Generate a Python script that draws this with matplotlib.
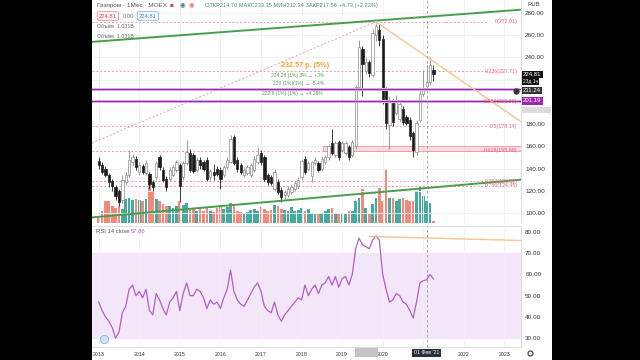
import matplotlib
matplotlib.use("Agg")
from matplotlib import pyplot as plt
from matplotlib.patches import Rectangle
from matplotlib.lines import Line2D
import numpy as np

plt.rcParams['font.family'] = ['Liberation Sans', 'DejaVu Sans']

# Monthly candles of Gazprom, index 0 = Jan 2013 ... 99 = Apr 2021
opens = [147, 143, 140, 134, 129, 123, 120, 112, 128, 134, 146, 149,
         137, 142, 136, 135, 128, 132, 150, 139, 131, 131, 134, 139,
         143, 132, 145, 154, 152, 139, 148, 146, 148, 132, 137, 140,
         139, 134, 141, 146, 168, 148, 143, 134, 136, 134, 139, 146,
         154, 150, 134, 132, 122, 128, 121, 116, 116, 119, 122, 124,
         132, 149, 140, 133, 145, 145, 140, 146, 150, 163, 152, 164, 157, 154, 159, 152,
         160, 213, 248, 228, 236, 224, 260, 265, 257, 211, 179, 199,
         190, 185, 194, 186, 184, 172, 155, 184, 207.5, 214.70, 217.6, 229]
highs = [150, 146, 142, 136, 131, 125, 122, 134, 137, 157, 153, 151,
         146, 144, 148, 137, 130, 147, 152, 141, 133, 141, 143, 148,
         145, 147, 166, 158, 154, 150, 150, 148, 150, 140, 144, 142,
         141, 143, 150, 170, 170, 150, 145, 141, 143, 145, 151, 159,
         157, 152, 136, 134, 140, 131, 123, 121, 124, 126, 129, 132,
         149, 151, 147, 147, 150, 147, 151, 152, 162, 176, 165, 166, 165, 165, 161, 166,
         215, 256, 250, 240, 238, 266, 271, 270, 260, 213, 205, 203,
         206, 201, 196, 188, 186, 174, 184, 213, 229, 233.35, 240, 233]
lows = [140, 135, 132, 123, 120, 112, 106, 109, 125, 132, 142, 139,
        134, 135, 134, 122, 120, 130, 139, 128, 120, 129, 132, 137,
        110, 130, 143, 137, 136, 137, 140, 138, 129, 130, 130, 133,
        122, 132, 140, 145, 143, 137, 135, 132, 134, 132, 137, 144,
        143, 129, 125, 125, 120, 117, 110, 113, 114, 117, 120, 122,
        130, 135, 138, 128, 143, 137, 138, 144, 148, 152, 150, 148, 155, 152, 148, 150,
        158, 210, 205, 225, 222, 222, 255, 250, 198, 176, 158, 178,
        188, 182, 179, 179, 166, 150, 152, 182, 205, 212.34, 215, 219]
closes = [143, 137, 134, 128, 124, 115, 110, 130, 134, 148, 150, 141,
          143, 137, 145, 126, 123, 145, 141, 130, 123, 139, 141, 146,
          124, 145, 155, 139, 138, 148, 143, 140, 131, 138, 134, 135,
          131, 141, 148, 167, 145, 140, 137, 139, 141, 143, 149, 152,
          146, 131, 128, 127, 137, 119, 114, 119, 122, 123, 127, 130,
          147, 137, 145, 146, 148, 139, 149, 150, 160, 154, 163, 150, 163, 163, 150, 164,
          213, 249, 234, 236, 226, 262, 268, 256, 203, 181, 200, 182,
          202, 198, 182, 181, 169, 157, 181, 207, 212.83, 217.56, 233, 224.81]
volume = [7, 12, 22, 22, 17, 15, 17, 14, 24, 25, 23, 24,
          23, 22, 24, 47, 32, 24, 22, 19, 17, 17, 15, 17,
          22, 18, 20, 15, 15, 12, 14, 12, 16, 12, 11, 15,
          18, 14, 16, 20, 17, 12, 11, 10, 11, 13, 14, 12,
          16, 14, 12, 13, 18, 17, 14, 13, 12, 16, 12, 13,
          15, 12, 14, 10, 9, 9, 10, 12, 14, 15, 10, 9, 9, 9, 12, 12,
          22, 25, 34, 15, 9, 19, 25, 35, 22, 54, 25, 25,
          22, 24, 25, 23, 22, 22, 32, 37, 27, 22, 20, 2]
rsi = [47, 43, 40, 38, 35, 30, 33, 42, 45, 53, 55, 50,
       52, 49, 53, 43, 41, 51, 48, 44, 41, 47, 49, 52,
       43, 51, 56, 50, 50, 53, 52, 49, 44, 48, 46, 47,
       44, 49, 53, 62, 52, 48, 46, 45, 48, 51, 54, 56,
       52, 45, 43, 42, 47, 41, 38, 41, 43, 45, 47, 49,
       48, 55, 50, 53, 55, 51, 55, 56, 59, 55, 59, 54, 58, 59, 55, 60,
       72, 77, 74, 73, 72, 76, 78, 76, 60, 53, 47, 48,
       51, 50, 47, 46, 43, 39.5, 47, 56, 57, 57.5, 60, 57.86]

year_labels = ['2013', '2014', '2015', '2016', '2017', '2018',
               '2019', '2020', '2021', '2022', '2023']
price_ticks = [100, 120, 140, 160, 180, 200, 220, 240, 260, 280]
hidden_ticks = [200, 220]   # covered by the price badges
rsi_ticks = [30, 40, 50, 60, 70, 80]

fib_ratios = [0, 0.236, 0.382, 0.5, 0.618, 0.764, 0.786]
fib_prices = [272.01, 227.71, 200.30, 178.14, 155.99, 128.52, 124.45]
purple_levels = [211.24, 201.19]
zone_low, zone_high, zone_start = 156.0, 160.5, 66.4

# drawings: (x in months, price)
upper_trend = ([-2, 125], [254, 283])
lower_trend = ([-2, 125], [96, 130])
down_trend = ([82, 125], [272, 182])
fib_diag = ([-2, 82], [163, 272])
rsi_trend = ([80, 125], [77.8, 75.9])
cursor = 97

W, H = 640, 360


def fx(x):
    return x / W


def fy(y):
    return 1 - y / H


fig = plt.figure(figsize=(6.4, 3.6), dpi=100, facecolor='black')

bg = fig.add_axes([fx(92), 0, fx(552) - fx(92), 1])
bg.set_facecolor('white')
bg.set_xticks([])
bg.set_yticks([])
for s in bg.spines.values():
    s.set_visible(False)
bg.set_zorder(-2)

ax = fig.add_axes([fx(92), fy(223), fx(521) - fx(92), 223 / H])
rax = fig.add_axes([fx(92), fy(347), fx(521) - fx(92), (347 - 226) / H])
ax.set_facecolor('none')
rax.set_facecolor('none')

x = np.arange(len(closes))
o = np.array(opens)
c = np.array(closes)
up = c >= o
xlim = (-1.98, 124.9)

# volume behind the candles
vax = ax.twinx()
vax.set_zorder(-1)
vax.bar(x, volume, width=0.8, color=np.where(up, '#45aaa0', '#f2897a'), linewidth=0)
vax.set_ylim(0, 223)
vax.axis('off')

# candles
ax.vlines(x, lows, highs, colors=np.where(up, '#8c8c8c', '#1c1c1c'), lw=0.6, zorder=3)
body = np.maximum(np.abs(c - o), 0.6)
ax.bar(x, body, bottom=np.minimum(o, c), width=0.68,
       color=np.where(up, 'white', '#1c1c1c'),
       edgecolor=np.where(up, '#8c8c8c', '#1c1c1c'), linewidth=0.5, zorder=4)

# pink zone
ax.add_patch(Rectangle((zone_start, zone_low), xlim[1] - zone_start, zone_high - zone_low,
                       fc='#fbd0da', ec='#f08aa0', lw=0.7, alpha=0.8, zorder=2))

# fibonacci levels
for r, p in zip(fib_ratios, fib_prices):
    ax.plot([-2, 115.5], [p, p], color='#ef9aa8', lw=0.7, ls=(0, (2, 2)), zorder=2)
    ax.text(123.9, p, f"{r:g}({p:.2f})", ha='right', va='center',
            fontsize=3.8, color='#e0607a', zorder=7)
ax.plot(*fib_diag, color='#ef9aa8', lw=0.7, ls=(0, (2, 2)), zorder=2)

# purple horizontal levels
for lvl in purple_levels:
    ax.axhline(lvl, color='#dcb0e6', lw=2.2, zorder=5)
    ax.axhline(lvl, color='#9c27b0', lw=0.8, zorder=5.1)

# trend lines
ax.plot(*upper_trend, color='#4a9d4f', lw=1.4, zorder=6)
ax.plot(*lower_trend, color='#4a9d4f', lw=1.4, zorder=6)
ax.plot(*down_trend, color='#f5c58a', lw=1.0, zorder=6)

# notes on the chart
ax.text(61, 233, "232.57 р. (5%)", fontsize=5.2, color='#f0a030',
        fontweight='bold', ha='center', va='center', zorder=8)
ax.text(58.7, 223.6, "224.28 (1%) 3% → +3%", fontsize=3.6, color='#5aa05a',
        ha='center', va='center', zorder=8)
ax.text(59, 217, "220 (1%)(1%) → -5.4%", fontsize=3.6, color='#5aa05a',
        ha='center', va='center', zorder=8)
ax.text(57.2, 207.8, "222.6 (1%) (1%) → +4.28%", fontsize=3.6, color='#5aa05a',
        ha='center', va='center', zorder=8)

ax.axvline(cursor, color='#9a9a9a', lw=0.6, ls=(0, (3, 3)), zorder=7)

ax.set_xlim(*xlim)
ax.set_ylim(91, 291.7)
ax.set_xticks(np.arange(0, 121, 12))
ax.set_yticks(price_ticks)
ax.set_yticklabels(['' if t in hidden_ticks else f"{t:.2f}" for t in price_ticks])
ax.yaxis.tick_right()
ax.tick_params(axis='y', length=0, pad=3, labelsize=4.6, labelcolor='#333333')
ax.tick_params(axis='x', length=0, labelbottom=False)
ax.grid(True, color='#eef0f4', lw=0.6, zorder=0)
for name, s in ax.spines.items():
    s.set_visible(name == 'right')
ax.spines['right'].set_color('#d8d8d8')
ax.spines['right'].set_linewidth(0.6)

# RSI panel
rax.axhspan(30, 70, color='#f3e6f8', zorder=0)
rax.plot(x, rsi, color='#b35fc8', lw=0.9, zorder=3)
rax.plot(*rsi_trend, color='#f5c58a', lw=1.0, zorder=4)
rax.axvline(cursor, color='#9a9a9a', lw=0.6, ls=(0, (3, 3)), zorder=5)
rax.set_xlim(*xlim)
rax.set_ylim(25.9, 82.7)
rax.set_yticks(rsi_ticks)
rax.set_yticklabels([f"{t:.2f}" for t in rsi_ticks])
rax.yaxis.tick_right()
rax.set_xticks(np.arange(0, 121, 12))
rax.set_xticklabels([lab if lab != '2021' else '' for lab in year_labels])
rax.tick_params(axis='y', length=0, pad=3, labelsize=4.6, labelcolor='#333333')
rax.tick_params(axis='x', length=0, pad=3.5, labelsize=3.8, labelcolor='#333333')
rax.grid(True, axis='x', color='#eef0f4', lw=0.6, zorder=0)
for name, s in rax.spines.items():
    s.set_visible(name in ('right', 'top', 'bottom'))
    s.set_color('#d8d8d8')
    s.set_linewidth(0.6)

# legend / header
fig.text(fx(97), fy(5), "Газпром · 1Мес · MOEX", fontsize=4.6, color='#555555', va='center')
fig.text(fx(170), fy(5), "■", fontsize=4.6, color='#e53935', va='center')
fig.text(fx(180), fy(5), "◉", fontsize=4.6, color='#2a7f7a', va='center')
fig.text(fx(189), fy(5), "◉", fontsize=4.6, color='#e57373', va='center')
fig.text(fx(205), fy(5),
         f"ОТКР{opens[cursor]:.2f} МАКС{highs[cursor]:.2f} МИН{lows[cursor]:.2f} "
         f"ЗАКР{closes[cursor]:.2f} +{closes[cursor] - closes[cursor - 1]:.2f} "
         f"(+{(closes[cursor] / closes[cursor - 1] - 1) * 100:.2f}%)",
         fontsize=4.1, color='#4a8f86', va='center')
fig.text(fx(99), fy(16), f"{closes[-1]:.2f}", fontsize=4.2, color='#e53935', va='center',
         bbox=dict(boxstyle='round,pad=0.3', fc='white', ec='#e57373', lw=0.5))
fig.text(fx(123), fy(16), "0.00", fontsize=4.2, color='#777777', va='center')
fig.text(fx(139), fy(16), f"{closes[-1]:.2f}", fontsize=4.2, color='#1e88e5', va='center',
         bbox=dict(boxstyle='round,pad=0.3', fc='white', ec='#64a8e8', lw=0.5))
fig.text(fx(97), fy(27), "Объём  1.031B", fontsize=3.8, color='#666666', va='center')
fig.text(fx(97), fy(37), "Объём  1.031B", fontsize=3.8, color='#666666', va='center')
fig.text(fx(527), fy(5), "RUB", fontsize=4.2, color='#444444', va='center')
fig.text(fx(96), fy(231), "RSI 14 close", fontsize=4.2, color='#555555', va='center')
fig.text(fx(131), fy(231), f"{rsi[-1]:.2f}", fontsize=4.2, color='#b35fc8', va='center')

# price axis badges
fig.text(fx(523), fy(74.5), f"{closes[-1]:.2f}", fontsize=4.3, color='white', va='center',
         bbox=dict(boxstyle='square,pad=0.2', fc='#111111', ec='none'))
fig.text(fx(523), fy(81.5), "23д 1ч", fontsize=3.5, color='white', va='center',
         bbox=dict(boxstyle='square,pad=0.2', fc='#111111', ec='none'))
fig.text(fx(523), fy(90.5), f"{purple_levels[0]:.2f}", fontsize=4.3, color='white', va='center',
         bbox=dict(boxstyle='square,pad=0.2', fc='#333333', ec='none'))
fig.add_artist(Line2D([fx(516)], [fy(90.5)], marker='o', ms=3.5, mfc='#333333', mec='#333333',
                      transform=fig.transFigure))
fig.text(fx(523), fy(101), f"{purple_levels[1]:.2f}", fontsize=4.3, color='white', va='center',
         bbox=dict(boxstyle='square,pad=0.2', fc='#9c27b0', ec='none'))
fig.add_artist(Rectangle((fx(521), fy(113)), fx(30), 6 / H, transform=fig.transFigure,
                         fc='#dcdcdc', ec='none', zorder=5))

# time axis badges
fig.add_artist(Rectangle((fx(355), fy(357)), fx(23), 9 / H, transform=fig.transFigure,
                         fc='#c4c4c4', ec='none', zorder=5))
fig.text(fx(98.7 + cursor * 3.38), fy(353), "01 Фев '21", fontsize=3.8, color='white',
         ha='center', va='center',
         bbox=dict(boxstyle='square,pad=0.35', fc='#2a2e39', ec='none'))
fig.add_artist(Line2D([fx(530)], [fy(353)], marker='o', ms=3.5, mfc='none', mec='#555555',
                      transform=fig.transFigure))
fig.add_artist(Line2D([fx(104)], [fy(339)], marker='o', ms=6, mfc='#cfe2f5', mec='#7fb0e0',
                      mew=0.5, transform=fig.transFigure))

# black side bars
fig.add_artist(Rectangle((0, 0), fx(92), 1, transform=fig.transFigure,
                         fc='black', ec='none', zorder=50))
fig.add_artist(Rectangle((fx(552), 0), 1 - fx(552), 1, transform=fig.transFigure,
                         fc='black', ec='none', zorder=50))

fig.savefig('out.png', dpi=100, facecolor='black')
